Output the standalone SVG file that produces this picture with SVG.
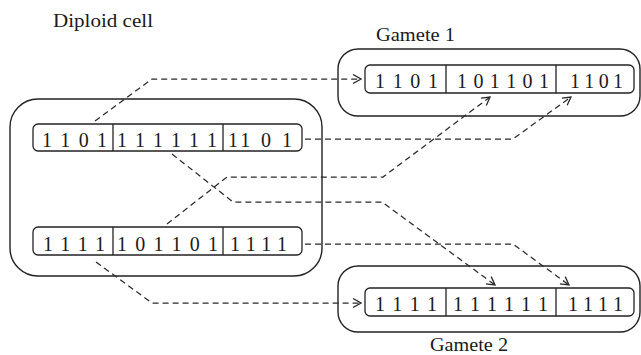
<svg xmlns="http://www.w3.org/2000/svg" width="641" height="355" viewBox="0 0 641 355">
<style>
.cell{fill:none;stroke:#222;stroke-width:1.4}
.chr{fill:#fff;stroke:#222;stroke-width:1.3}
.div{stroke:#222;stroke-width:1.3}
.bits{font-family:"Liberation Serif",serif;font-size:20px;fill:#1a1a1a;text-anchor:middle}
.lbl{font-family:"Liberation Serif",serif;font-size:19px;fill:#1a1a1a}
.con{fill:none;stroke:#2a2a2a;stroke-width:1.25;stroke-dasharray:6 4;marker-end:url(#arr)}
</style>
<defs>
<marker id="arr" viewBox="0 0 10 10" refX="9" refY="5" markerWidth="10" markerHeight="10" markerUnits="userSpaceOnUse" orient="auto">
<path d="M1,0.5 L9,5 L1,9.5" fill="none" stroke="#2a2a2a" stroke-width="1.3"/>
</marker>
</defs>
<g id="diploid-cell">
<text class="lbl" x="53" y="27" textLength="100" lengthAdjust="spacingAndGlyphs">Diploid cell</text>
<rect class="cell" x="10" y="99" width="312" height="177" rx="28"/>
<g id="diploid-top">
<rect class="chr" x="33" y="124" width="269" height="27" rx="5"/>
<line class="div" x1="113" y1="124" x2="113" y2="151"/>
<line class="div" x1="223" y1="124" x2="223" y2="151"/>
<text class="bits" x="74.5" y="147" textLength="65" lengthAdjust="spacing">1 1 0 1</text>
<text class="bits" x="167" y="147" textLength="100" lengthAdjust="spacing">1 1 1 1 1 1</text>
<text class="bits" x="260" y="147" textLength="64" lengthAdjust="spacing">11 0 1</text>
</g>
<g id="diploid-bottom">
<rect class="chr" x="33" y="227" width="269" height="28" rx="5"/>
<line class="div" x1="113" y1="227" x2="113" y2="255"/>
<line class="div" x1="223" y1="227" x2="223" y2="255"/>
<text class="bits" x="74" y="251" textLength="62" lengthAdjust="spacing">1 1 1 1</text>
<text class="bits" x="167.5" y="251" textLength="101" lengthAdjust="spacing">1 0 1 1 0 1</text>
<text class="bits" x="258.5" y="251" textLength="57" lengthAdjust="spacing">1 1 1 1</text>
</g>
</g>
<g id="gamete-1">
<text class="lbl" x="376" y="41" textLength="79" lengthAdjust="spacingAndGlyphs">Gamete 1</text>
<rect class="cell" x="338" y="49" width="302" height="67" rx="20"/>
<rect class="chr" x="365" y="65" width="269" height="28" rx="5"/>
<line class="div" x1="446" y1="65" x2="446" y2="93"/>
<line class="div" x1="556" y1="65" x2="556" y2="93"/>
<text class="bits" x="406.5" y="88" textLength="63" lengthAdjust="spacing">1 1 0 1</text>
<text class="bits" x="503" y="88" textLength="92" lengthAdjust="spacing">1 0 1 1 0 1</text>
<text class="bits" x="596.5" y="88" textLength="53" lengthAdjust="spacing">1 1 0 1</text>
</g>
<g id="gamete-2">
<text class="lbl" x="430" y="351" textLength="78" lengthAdjust="spacingAndGlyphs">Gamete 2</text>
<rect class="cell" x="338" y="266" width="302" height="66" rx="20"/>
<rect class="chr" x="365" y="288" width="269" height="28" rx="5"/>
<line class="div" x1="446" y1="288" x2="446" y2="316"/>
<line class="div" x1="556" y1="288" x2="556" y2="316"/>
<text class="bits" x="406" y="311" textLength="62" lengthAdjust="spacing">1 1 1 1</text>
<text class="bits" x="500.5" y="311" textLength="95" lengthAdjust="spacing">1 1 1 1 1 1</text>
<text class="bits" x="595.5" y="311" textLength="55" lengthAdjust="spacing">1 1 1 1</text>
</g>
<g id="connectors">
<polyline class="con" points="95,121 152,79 361,79"/>
<polyline class="con" points="305,139 513,139 571,97"/>
<polyline class="con" points="172,154 233,202 382,202 495,285"/>
<polyline class="con" points="167,224 227,177 383,177 490,97"/>
<polyline class="con" points="305,244 513,244 569,285"/>
<polyline class="con" points="96,262 152,303 361,303"/>
</g>
</svg>
